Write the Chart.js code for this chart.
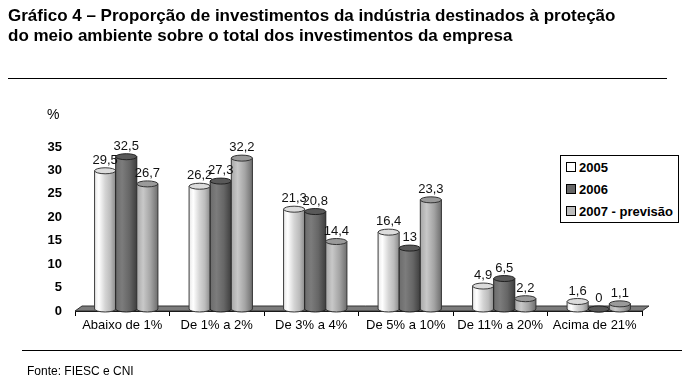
<!DOCTYPE html>
<html>
<head>
<meta charset="utf-8">
<script src="https://cdn.jsdelivr.net/npm/chart.js@4"></script>
<style>
  body { margin: 0; background: #fff; font-family: "Liberation Sans", Arial, sans-serif; }
  #wrap { position: relative; width: 686px; height: 381px; overflow: hidden; }
  #title { position: absolute; left: 8px; top: 6px; font-weight: bold; font-size: 17px; line-height: 20px; color: #000; white-space: nowrap; }
  .rule { position: absolute; height: 0; border-top: 1px solid #000; }
  #unit { position: absolute; left: 47px; top: 106px; font-size: 14px; }
  #legend { position: absolute; left: 560px; top: 155px; width: 117px; height: 66px; border: 1px solid #000; background: #fff; }
  .item { position: absolute; left: 5px; font-weight: bold; font-size: 13px; line-height: 14px; white-space: nowrap; }
  .item span { display: inline-block; width: 8px; height: 8px; border: 1px solid #000; margin-right: 3px; vertical-align: 0px; }
  #source { position: absolute; left: 27px; top: 364px; font-size: 12px; }
  canvas { position: absolute; left: 0; top: 0; }
</style>
</head>
<body>
<div id="wrap">
  <canvas id="chart" width="686" height="381"></canvas>
  <div id="title">Gráfico 4 – Proporção de investimentos da indústria destinados à proteção<br>do meio ambiente sobre o total dos investimentos da empresa</div>
  <div class="rule" style="left:8px; top:78px; width:659px;"></div>
  <div id="unit">%</div>
  <div id="legend"></div>
  <div class="rule" style="left:22px; top:350px; width:660px;"></div>
  <div id="source">Fonte: FIESC e CNI</div>
</div>
<script>
const categories = ["Abaixo de 1%", "De 1% a 2%", "De 3% a 4%", "De 5% a 10%", "De 11% a 20%", "Acima de 21%"];
const seriesNames = ["2005", "2006", "2007 - previsão"];
const values2005 = [29.5, 26.2, 21.3, 16.4, 4.9, 1.6];
const values2006 = [32.5, 27.3, 20.8, 13, 6.5, 0];
const values2007 = [26.7, 32.2, 14.4, 23.3, 2.2, 1.1];
const yTicks = [0, 5, 10, 15, 20, 25, 30, 35];

// cylinder shading per series
const shades = [
  { stops: [[0, "#e8e8e8"], [0.2, "#ffffff"], [0.5, "#d4d4d4"], [0.75, "#bcbcbc"], [1, "#8a8a8a"]], cap: "#dcdcdc", line: "#3a3a3a", swatch: "#ffffff" },
  { stops: [[0, "#6c6c6c"], [0.3, "#7c7c7c"], [0.65, "#666666"], [1, "#3e3e3e"]], cap: "#595959", line: "#222222", swatch: "#666666" },
  { stops: [[0, "#a8a8a8"], [0.3, "#c8c8c8"], [0.65, "#a4a4a4"], [1, "#6e6e6e"]], cap: "#9a9a9a", line: "#333333", swatch: "#bdbdbd" }
];
// 3d depth shift of the bars over the floor
const depthX = 4, depthY = -2;

// html legend
const legend = document.getElementById("legend");
seriesNames.forEach((name, i) => {
  const d = document.createElement("div");
  d.className = "item";
  d.style.top = (5 + i * 22) + "px";
  d.innerHTML = '<span style="background:' + shades[i].swatch + '"></span>' + name;
  legend.appendChild(d);
});

const floorPlugin = {
  id: "floor",
  beforeDatasetsDraw(chart) {
    const { ctx, chartArea } = chart;
    const b = chartArea.bottom, l = chartArea.left, r = chartArea.right;
    ctx.save();
    ctx.beginPath();
    ctx.moveTo(l, b);
    ctx.lineTo(r, b);
    ctx.lineTo(r + 7, b - 5);
    ctx.lineTo(l + 7, b - 5);
    ctx.closePath();
    ctx.fillStyle = "#7c7c7c";
    ctx.fill();
    ctx.strokeStyle = "#333";
    ctx.lineWidth = 1;
    ctx.stroke();
    ctx.restore();
  }
};

function drawCylinder(ctx, x, top, bottom, w, shade) {
  const l = x - w / 2, r = x + w / 2, ry = 3;
  const g = ctx.createLinearGradient(l, 0, r, 0);
  shade.stops.forEach(([s, c]) => g.addColorStop(s, c));
  ctx.beginPath();
  ctx.moveTo(l, top);
  ctx.lineTo(l, bottom);
  ctx.ellipse(x, bottom, w / 2, ry, 0, Math.PI, 0, true);
  ctx.lineTo(r, top);
  ctx.closePath();
  ctx.fillStyle = g;
  ctx.fill();
  ctx.strokeStyle = shade.line;
  ctx.lineWidth = 1;
  ctx.stroke();
  ctx.beginPath();
  ctx.ellipse(x, top, w / 2, ry, 0, 0, Math.PI * 2);
  ctx.fillStyle = shade.cap;
  ctx.fill();
  ctx.stroke();
}

const cylinderPlugin = {
  id: "cylinders",
  afterDatasetsDraw(chart) {
    const ctx = chart.ctx;
    ctx.save();
    chart.data.datasets.forEach((ds, di) => {
      const meta = chart.getDatasetMeta(di);
      meta.data.forEach((bar) => {
        drawCylinder(ctx, bar.x + depthX, bar.y + depthY, bar.base + depthY, bar.width, shades[di]);
      });
    });
    // value labels
    ctx.font = "13px 'Liberation Sans', Arial, sans-serif";
    ctx.fillStyle = "#111";
    ctx.textAlign = "center";
    ctx.textBaseline = "alphabetic";
    chart.data.datasets.forEach((ds, di) => {
      const meta = chart.getDatasetMeta(di);
      meta.data.forEach((bar, i) => {
        ctx.fillText(String(ds.data[i]).replace(".", ","), bar.x + depthX, bar.y + depthY - 7);
      });
    });
    ctx.restore();
  }
};

new Chart(document.getElementById("chart"), {
  type: "bar",
  data: {
    labels: categories,
    datasets: [
      { label: seriesNames[0], data: values2005, backgroundColor: "rgba(0,0,0,0)" },
      { label: seriesNames[1], data: values2006, backgroundColor: "rgba(0,0,0,0)" },
      { label: seriesNames[2], data: values2007, backgroundColor: "rgba(0,0,0,0)" }
    ]
  },
  options: {
    responsive: false,
    animation: false,
    devicePixelRatio: 1,
    layout: { padding: { left: 0, right: 44, top: 147, bottom: 40 } },
    datasets: { bar: { categoryPercentage: 0.67, barPercentage: 1 } },
    plugins: { legend: { display: false }, tooltip: { enabled: false } },
    scales: {
      x: {
        afterFit: (s) => { s.height = 30; },
        grid: { display: true, drawOnChartArea: false, tickLength: 5, color: "#000", offset: true },
        border: { display: true, color: "#000" },
        ticks: { padding: 2, color: "#000", font: { family: "'Liberation Sans', Arial, sans-serif", size: 13 } }
      },
      y: {
        min: 0,
        max: 35,
        afterFit: (s) => { s.width = 75; },
        afterBuildTicks: (s) => { s.ticks = yTicks.map(v => ({ value: v })); },
        grid: { display: false },
        border: { display: false },
        ticks: { padding: 5, color: "#000", font: { family: "'Liberation Sans', Arial, sans-serif", size: 13, weight: "bold" } }
      }
    }
  },
  plugins: [floorPlugin, cylinderPlugin]
});
</script>
</body>
</html>
